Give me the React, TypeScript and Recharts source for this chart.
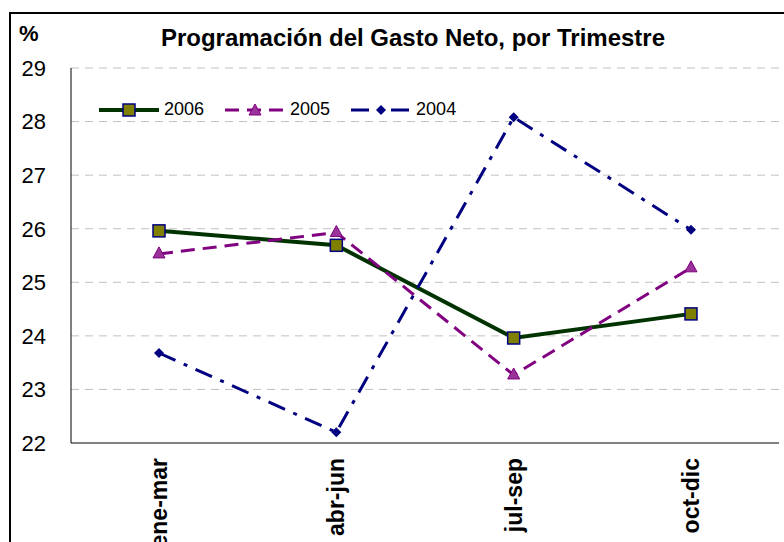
import React from "react";
import { LineChart, Line, XAxis, YAxis, CartesianGrid } from "recharts";

const quarters = ["ene-mar", "abr-jun", "jul-sep", "oct-dic"];
const gasto2006 = [25.96, 25.69, 23.96, 24.41];
const gasto2005 = [25.53, 25.93, 23.27, 25.27];
const gasto2004 = [23.68, 22.2, 28.08, 25.98];
const yTicks = [22, 23, 24, 25, 26, 27, 28, 29];

const data = quarters.map((q, i) => ({
  q,
  y2006: gasto2006[i],
  y2005: gasto2005[i],
  y2004: gasto2004[i],
}));

const FONT = "'Liberation Sans', Arial, sans-serif";

const SquareDot = (props: any) => {
  const { cx, cy } = props;
  if (cx == null || cy == null) return null;
  return <rect x={cx - 6} y={cy - 6} width={12} height={12} fill="#808000" stroke="#000080" strokeWidth={1.5} />;
};

const TriangleDot = (props: any) => {
  const { cx, cy } = props;
  if (cx == null || cy == null) return null;
  return <polygon points={`${cx},${cy - 7} ${cx + 6},${cy + 4} ${cx - 6},${cy + 4}`} fill="#993399" stroke="#800080" strokeWidth={1} />;
};

const DiamondDot = (props: any) => {
  const { cx, cy } = props;
  if (cx == null || cy == null) return null;
  return <polygon points={`${cx},${cy - 5} ${cx + 5},${cy} ${cx},${cy + 5} ${cx - 5},${cy}`} fill="#000080" />;
};

const QuarterTick = (props: any) => {
  const { x, y, payload } = props;
  return (
    <text
      x={x}
      y={y}
      transform={`rotate(-90, ${x}, ${y})`}
      textAnchor="end"
      dy="0.35em"
      fontFamily={FONT}
      fontWeight="bold"
      fontSize={23}
      fill="#000"
    >
      {payload.value}
    </text>
  );
};

const legendItems = [
  { name: "2006", color: "#003300", width: 4, dash: undefined, marker: "square" },
  { name: "2005", color: "#800080", width: 3, dash: "14 8", marker: "triangle" },
  { name: "2004", color: "#000080", width: 3, dash: "18 9 4 9", marker: "diamond" },
];

const LegendBox = () => (
  <div
    style={{
      position: "absolute",
      left: 98,
      top: 99,
      display: "flex",
      alignItems: "center",
      fontFamily: FONT,
      fontSize: 18,
    }}
  >
    {legendItems.map((it) => (
      <div key={it.name} style={{ display: "flex", alignItems: "center", marginRight: 20 }}>
        <svg width={62} height={20}>
          <line x1={1} y1={10} x2={61} y2={10} stroke={it.color} strokeWidth={it.width} strokeDasharray={it.dash} />
          {it.marker === "square" && <SquareDot cx={31} cy={10} />}
          {it.marker === "triangle" && <TriangleDot cx={31} cy={11} />}
          {it.marker === "diamond" && <DiamondDot cx={31} cy={10} />}
        </svg>
        <span style={{ marginLeft: 4 }}>{it.name}</span>
      </div>
    ))}
  </div>
);

export default function App() {
  return (
    <div style={{ position: "absolute", left: 0, top: 0, width: 784, height: 542, background: "#fff", overflow: "hidden" }}>
      <div
        style={{
          position: "absolute",
          left: 9,
          top: 12,
          width: 800,
          height: 600,
          borderLeft: "2px solid #000",
          borderTop: "2px solid #000",
        }}
      />
      <div style={{ position: "absolute", left: 19, top: 21, fontFamily: FONT, fontWeight: "bold", fontSize: 22 }}>%</div>
      <div
        style={{
          position: "absolute",
          left: 0,
          width: 826,
          top: 24,
          textAlign: "center",
          fontFamily: FONT,
          fontWeight: "bold",
          fontSize: 24,
        }}
      >
        Programación del Gasto Neto, por Trimestre
      </div>
      <div style={{ position: "absolute", left: 0, top: 0 }}>
        <LineChart width={784} height={542} data={data} margin={{ top: 68, right: 5, bottom: 0, left: 11 }}>
          <CartesianGrid horizontal vertical={false} stroke="#c0c0c0" strokeDasharray="8 6" />
          <XAxis
            dataKey="q"
            height={99}
            padding={{ left: 88, right: 88 }}
            axisLine={{ stroke: "#808080", strokeWidth: 2 }}
            tickLine={false}
            tickSize={0}
            tickMargin={15}
            tick={<QuarterTick />}
            interval={0}
          />
          <YAxis
            width={60}
            domain={[22, 29]}
            ticks={yTicks}
            axisLine={{ stroke: "#000", strokeWidth: 1 }}
            tickLine={false}
            tickSize={0}
            tickMargin={25}
            tick={{ fontFamily: FONT, fontSize: 22, fill: "#000" }}
          />
          <Line dataKey="y2006" stroke="#003300" strokeWidth={4} dot={<SquareDot />} activeDot={false} isAnimationActive={false} />
          <Line dataKey="y2005" stroke="#800080" strokeWidth={3} strokeDasharray="14 8" dot={<TriangleDot />} activeDot={false} isAnimationActive={false} />
          <Line dataKey="y2004" stroke="#000080" strokeWidth={3} strokeDasharray="18 9 4 9" dot={<DiamondDot />} activeDot={false} isAnimationActive={false} />
        </LineChart>
      </div>
      <LegendBox />
    </div>
  );
}
